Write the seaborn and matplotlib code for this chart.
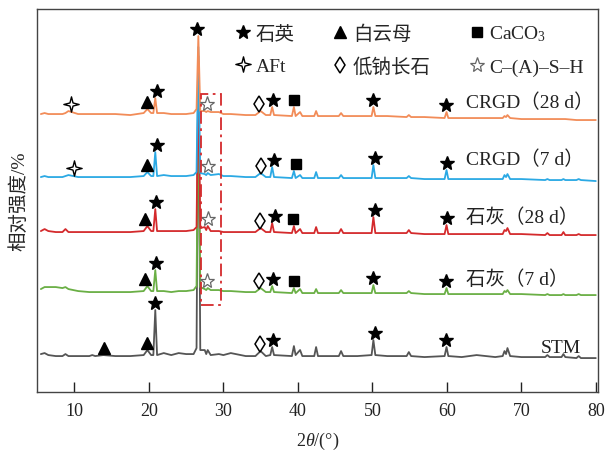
import numpy as np
import pandas as pd
import matplotlib.pyplot as plt
import seaborn as sns
from matplotlib.lines import Line2D
from matplotlib.patches import Rectangle
from matplotlib.path import Path

sns.set_theme(style="ticks")
plt.rcParams["font.family"] = ["Liberation Serif", "Noto Sans CJK SC"]
plt.rcParams["mathtext.fontset"] = "custom"
plt.rcParams["mathtext.rm"] = "Liberation Serif"
plt.rcParams["mathtext.it"] = "Liberation Serif:italic"

# 2theta grid (deg)
two_theta = [5.5, 6.0, 6.5, 7.5, 8.4, 8.8, 9.2, 10.5, 12.0, 12.4, 12.8, 13.9, 15.5, 17.5,
             19.3, 19.8, 20.3, 20.6, 20.86, 21.1, 22.0, 23.0, 24.0, 25.0, 26.0, 26.4, 26.64,
             26.9, 27.5, 27.7, 27.9, 28.3, 29.4, 30.0, 31.0, 33.0, 34.3, 35.0, 35.7, 36.3,
             36.55, 36.8, 39.2, 39.47, 39.7, 40.3, 40.6, 42.2, 42.45, 42.7, 45.5, 45.8, 46.1,
             48.0, 49.9, 50.14, 50.4, 52.0, 54.6, 54.9, 55.2, 57.0, 59.7, 59.96, 60.2, 62.0,
             64.0, 66.5, 67.5, 67.74, 67.95, 68.14, 68.5, 70.0, 73.2, 73.5, 73.8, 75.4, 75.65,
             75.9, 77.4, 77.7, 78.0, 80.0]

stm = [2, 3, 1, 0, 0, 2, 0, 0, 0, 1, 0, 1, 0, 0,
       1, 6, 1, 1, 46, 1, 3, 1, 3, 2, 2, 8, 300,
       6, 6, 2, 6, 1, 2, 1, 3, 0, 0, 5, 0, 1,
       9, 1, 0, 10, 1, 6, 0, 0, 9, 0, 0, 5, 0,
       0, 1, 16, 1, 0, 0, 4, 0, -1, 0, 9, 0, -1,
       1, -1, 0, 5, 2, 8, 0, -1, -1, 1, -1, -1, 2,
       -1, -2, 0, -2, -2]
lime_7d = [3, 5, 5, 5, 4, 5, 3, 1, 0, 0, 0, 0, 0, 0,
           1, 6, 1, 1, 22, 1, 1, 0, 1, 1, 2, 6, 200,
           5, 3, 2, 4, 2, 2, 1, 1, 0, 0, 4, 0, 0,
           6, 0, -1, 4, -1, 3, -1, -1, 3, -1, -1, 2, -1,
           -1, -1, 7, -1, -1, -1, 1, -1, -2, -2, 4, -2, -2,
           -2, -2, -2, 1, 0, 2, -2, -2, -3, -2, -3, -3, -2,
           -3, -3, -2, -3, -3]
lime_28d = [1, 3, 1, 0, 0, 3, 0, 0, 0, 0, 0, 0, 0, 0,
            1, 6, 1, 1, 23, 1, 1, 1, 1, 1, 2, 5, 160,
            4, 5, 2, 6, 1, 1, 0, 0, 0, 0, 4, 0, 0,
            9, 0, -1, 6, -1, 3, -1, -1, 5, -1, -1, 3, -1,
            -1, -1, 15, -1, -1, -1, 2, -1, -2, -2, 7, -2, -2,
            -2, -2, -2, 2, 1, 4, -2, -2, -3, -1, -3, -3, 0,
            -3, -3, -2, -3, -3]
crgd_7d = [0, 1, 0, 0, 0, 1, 2, 0, 0, 0, 0, 0, 0, 0,
           1, 5, 1, 1, 25, 1, 2, 1, 1, 1, 2, 5, 130,
           4, 3, 2, 4, 2, 3, 1, 1, 0, 0, 4, 0, 0,
           10, 0, -1, 6, -1, 2, -1, -1, 5, -1, -1, 2, -1,
           -1, -1, 12, -1, -1, -1, 1, -1, -2, -2, 7, -2, -2,
           -2, -2, -2, 2, 0, 3, -2, -2, -3, -2, -3, -3, -2,
           -3, -3, -2, -3, -4]
crgd_28d = [0, 1, 0, 0, 0, 1, 3, 0, 0, 0, 0, 0, 0, -1,
            1, 5, 1, 1, 16, 1, 1, 0, 0, 0, 1, 5, 78,
            3, 3, 2, 3, 2, 2, 0, 0, -1, -1, 3, -1, -1,
            7, -1, -2, 7, -2, 2, -2, -2, 3, -2, -2, 1, -2,
            -2, -2, 7, -2, -2, -3, -1, -3, -3, -4, 2, -4, -4,
            -4, -4, -4, -2, -3, -1, -4, -5, -5, -5, -5, -5, -5,
            -5, -6, -6, -6, -6]

samples = ["STM", "石灰（7 d）", "石灰（28 d）", "CRGD（7 d）", "CRGD（28 d）"]
curves = [stm, lime_7d, lime_28d, crgd_7d, crgd_28d]
offsets = [0, 64, 124, 179, 242]
colors = ["#555555", "#6aaf45", "#d42a2c", "#2ba9e4", "#f28c58"]

# phase markers per sample: (phase, 2theta)
marks_stm = [("mica", 14.0), ("mica", 19.8), ("quartz", 20.8), ("albite", 34.9),
             ("quartz", 36.6), ("quartz", 50.3), ("quartz", 59.9)]
marks_lime_7d = [("mica", 19.5), ("quartz", 21.0), ("cash", 27.8), ("albite", 34.8),
                 ("quartz", 36.6), ("calcite", 39.5), ("quartz", 50.1), ("quartz", 59.9)]
marks_lime_28d = [("mica", 19.5), ("quartz", 21.0), ("cash", 28.0), ("albite", 34.9),
                  ("quartz", 36.9), ("calcite", 39.4), ("quartz", 50.3), ("quartz", 60.0)]
marks_crgd_7d = [("aft", 9.95), ("mica", 19.7), ("quartz", 21.1), ("cash", 28.0), ("albite", 35.0),
                 ("quartz", 36.8), ("calcite", 39.7), ("quartz", 50.4), ("quartz", 60.0)]
marks_crgd_28d = [("aft", 9.6), ("mica", 19.7), ("quartz", 21.1), ("quartz", 26.5), ("cash", 27.8),
                  ("albite", 34.8), ("quartz", 36.6), ("calcite", 39.5), ("quartz", 50.1),
                  ("quartz", 59.9)]
marks = [marks_stm, marks_lime_7d, marks_lime_28d, marks_crgd_7d, marks_crgd_28d]

label_x = [72.6, 62.6, 62.6, 62.6, 62.6]
label_y = [9, 77, 139, 197, 254]

four_star = Path([(0, 1), (0.2, 0.2), (1, 0), (0.2, -0.2), (0, -1), (-0.2, -0.2),
                  (-1, 0), (-0.2, 0.2), (0, 1)], closed=True)
styles = {
    "quartz": dict(marker="*", color="black", ms=10, mfc="black", mec="black"),
    "mica": dict(marker="^", color="black", ms=8, mfc="black", mec="black"),
    "calcite": dict(marker="s", color="black", ms=6.5, mfc="black", mec="black"),
    "aft": dict(marker=four_star, color="black", ms=11, mfc="white", mec="black", mew=1),
    "albite": dict(marker="d", color="black", ms=8.5, mfc="white", mec="black", mew=1.1),
    "cash": dict(marker="*", color="#666666", ms=11, mfc="white", mec="#666666", mew=0.9),
}
legend_order = [("quartz", "石英"), ("aft", "AFt"), ("mica", "白云母"),
                ("albite", "低钠长石"), ("calcite", "CaCO$_3$"), ("cash", "C–(A)–S–H")]

rows = []
for name, ys, off in zip(samples, curves, offsets):
    for x, y in zip(two_theta, ys):
        rows.append({"2theta": x, "intensity": y + off, "sample": name})
df = pd.DataFrame(rows)

fig = plt.figure(figsize=(6.09, 4.56), dpi=100)
ax = fig.add_axes([0.061, 0.138, 0.921, 0.840])

sns.lineplot(data=df, x="2theta", y="intensity", hue="sample", hue_order=samples,
             palette=dict(zip(samples, colors)), estimator=None, sort=False,
             lw=1.3, legend=False, ax=ax)

xs = np.array(two_theta)
for ys, off, mk in zip(curves, offsets, marks):
    ys = np.array(ys) + off
    for phase, t in mk:
        near = np.abs(xs - t) <= 0.8
        ax.plot([t], [ys[near].max() + 7], ls="none", zorder=5, **styles[phase])

for name, lx, ly in zip(samples, label_x, label_y):
    ax.text(lx, ly, name, ha="left", va="center", fontsize=14, color="#222222")

ax.add_patch(Rectangle((27.0, 51), 2.7, 211, fill=False, ec="#d42a2c", lw=1.3,
                       ls=(0, (7, 2.5, 1.5, 2.5)), zorder=6))

handles = [Line2D([], [], ls="none", **styles[k]) for k, _ in legend_order]
ax.legend(handles, [t for _, t in legend_order], ncol=3, loc="upper right",
          bbox_to_anchor=(0.975, 0.962), frameon=False, fontsize=14, borderpad=0,
          borderaxespad=0, handlelength=0.8, handletextpad=0.25, columnspacing=1.95,
          labelspacing=0.75)

ax.set_xlim(5, 80.3)
ax.set_ylim(-36, 347)
ax.set_xticks([10, 20, 30, 40, 50, 60, 70, 80])
ax.tick_params(axis="x", direction="in", length=7, width=1, labelsize=13, pad=7,
               colors="#222222")
ax.tick_params(axis="y", left=False, labelleft=False)
for s in ax.spines.values():
    s.set_visible(True)
    s.set_color("#444444")
    s.set_linewidth(1)
ax.set_xlabel("2$\\theta$/(°)", fontsize=13, labelpad=8)
ax.set_ylabel("相对强度/%", fontsize=14, labelpad=6)

fig.savefig("out.png", dpi=100)
